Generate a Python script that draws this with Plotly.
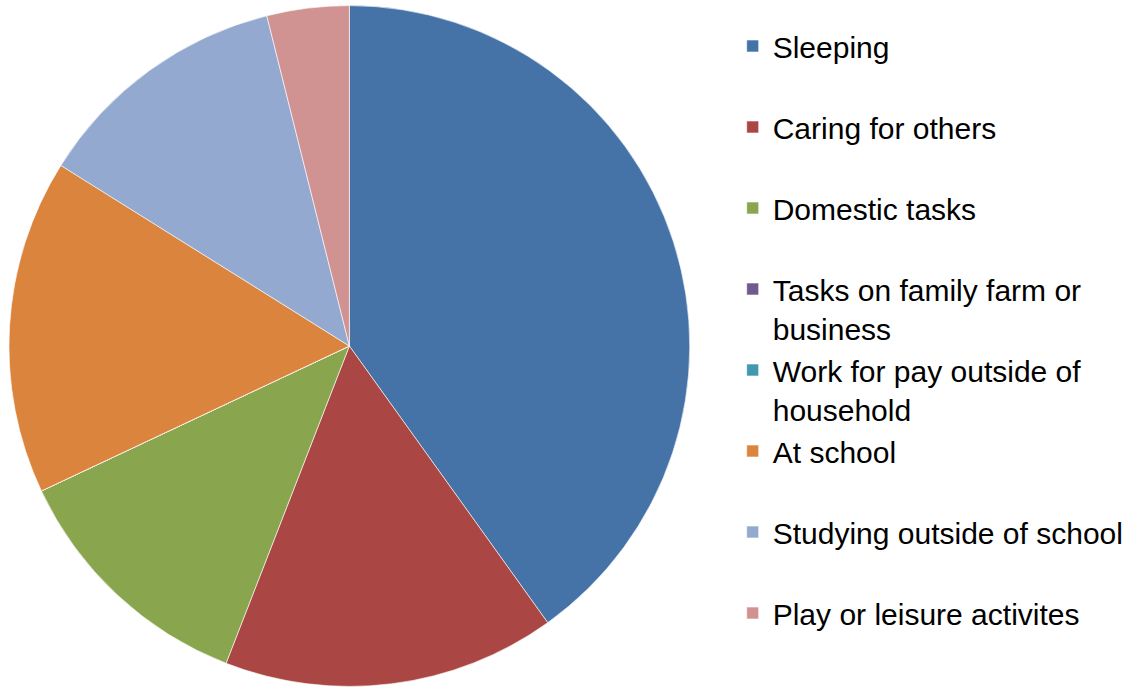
import plotly.graph_objects as go

# Share of the day spent on each activity (percent)
activities = [
    "Sleeping",
    "Caring for others",
    "Domestic tasks",
    "Tasks on family farm or<br>business",
    "Work for pay outside of<br>household",
    "At school",
    "Studying outside of school",
    "Play or leisure activites",
]
shares = [40.1, 15.8, 12.1, 0, 0, 15.9, 12.2, 3.9]
colors = ["#4572A7", "#AA4643", "#89A54E", "#71588F",
          "#4198AF", "#DB843D", "#93A9CF", "#D19392"]

# pad single-line legend entries so every entry takes two lines
legend_labels = [a if "<br>" in a else a + "<br> " for a in activities]

W, H = 1129, 692
cx, cy, r = 350, 346, 341

fig = go.Figure(go.Pie(
    labels=legend_labels,
    values=shares,
    sort=False,
    direction="clockwise",
    rotation=0,
    marker=dict(colors=colors, line=dict(color="rgba(255,255,255,0.6)", width=1)),
    textinfo="none",
    hovertemplate="%{label}: %{value}%<extra></extra>",
    domain=dict(x=[(cx - r) / W, (cx + r) / W],
                y=[(H - cy - r) / H, (H - cy + r) / H]),
))

fig.update_layout(
    width=W, height=H,
    margin=dict(l=0, r=0, t=0, b=0),
    paper_bgcolor="white",
    plot_bgcolor="white",
    showlegend=True,
    legend=dict(
        x=734 / W, xanchor="left",
        y=1 - 20 / H, yanchor="top",
        valign="top",
        font=dict(family="Arial, Liberation Sans, sans-serif", size=30, color="black"),
        bgcolor="rgba(0,0,0,0)",
    ),
)

fig.write_html("out.html")
